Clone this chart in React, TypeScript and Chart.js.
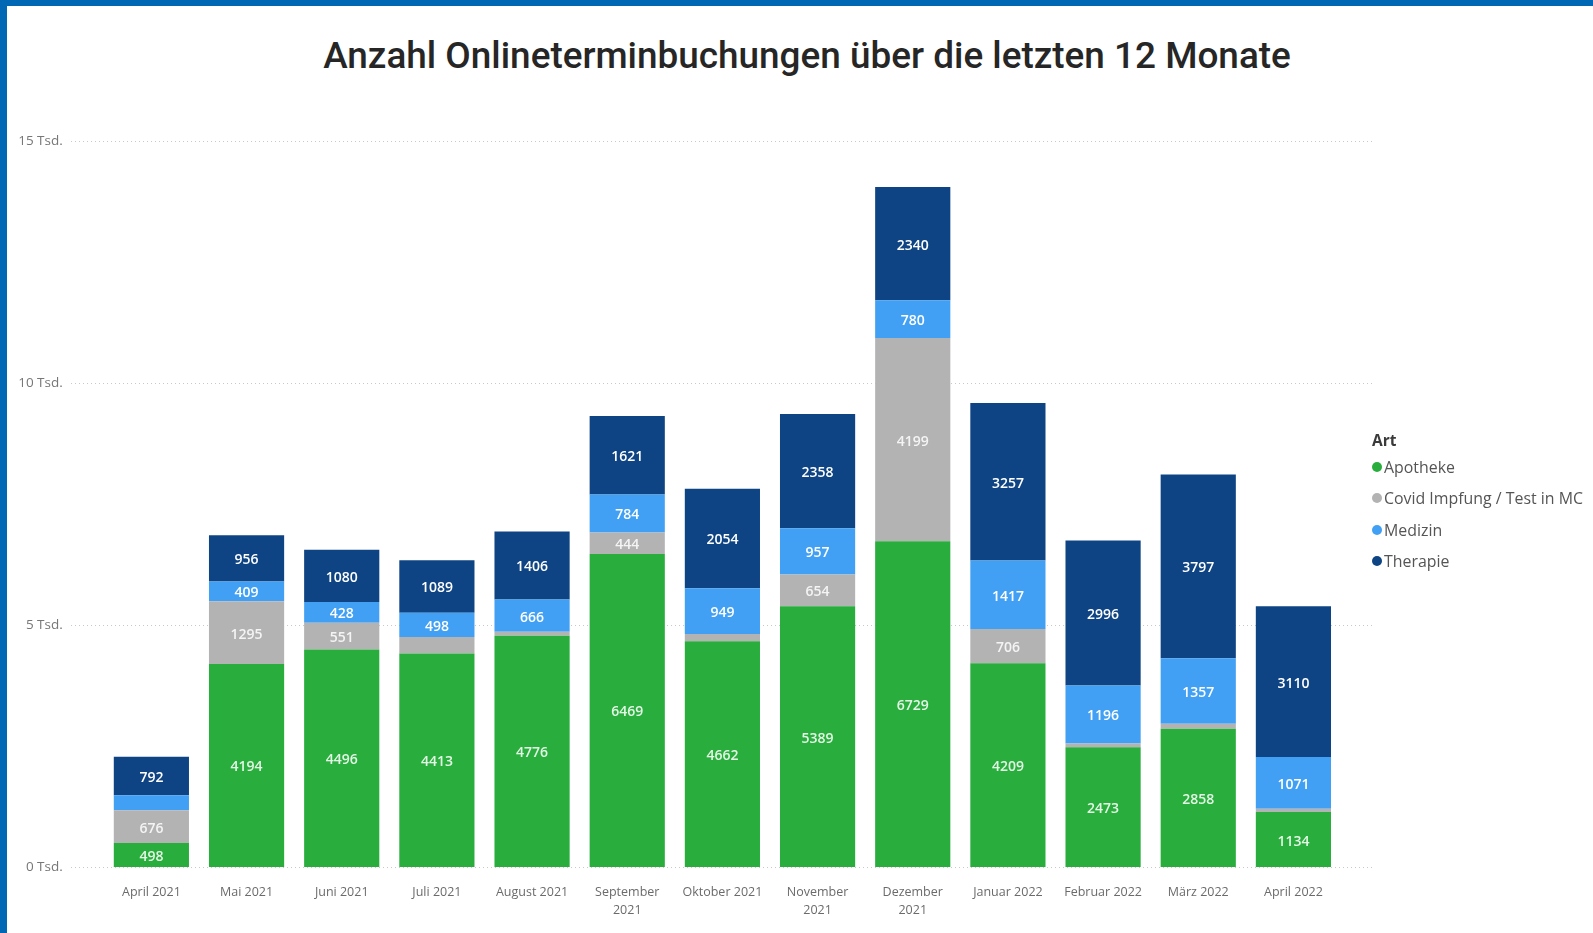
import React, { useEffect, useRef } from "react";
import { Chart, registerables } from "chart.js";

Chart.register(...registerables);

const categories: string[][] = [
  ["April 2021"],
  ["Mai 2021"],
  ["Juni 2021"],
  ["Juli 2021"],
  ["August 2021"],
  ["September", "2021"],
  ["Oktober 2021"],
  ["November", "2021"],
  ["Dezember", "2021"],
  ["Januar 2022"],
  ["Februar 2022"],
  ["März 2022"],
  ["April 2022"],
];

const apotheke = [498, 4194, 4496, 4413, 4776, 6469, 4662, 5389, 6729, 4209, 2473, 2858, 1134];
const covid = [676, 1295, 551, 340, 85, 444, 150, 654, 4199, 706, 80, 100, 70];
const medizin = [310, 409, 428, 498, 666, 784, 949, 957, 780, 1417, 1196, 1357, 1071];
const therapie = [792, 956, 1080, 1089, 1406, 1621, 2054, 2358, 2340, 3257, 2996, 3797, 3110];

const seriesNames = ["Apotheke", "Covid Impfung / Test in MC", "Medizin", "Therapie"];
const seriesColors = ["#29AE3E", "#B3B3B3", "#41A0F4", "#0E4483"];
const labelColors = ["#E4F7E6", "#F4F4F4", "#FFFFFF", "#FFFFFF"];
const yTicks = [0, 5000, 10000, 15000];

const TITLE = "Anzahl Onlineterminbuchungen über die letzten 12 Monate";
const LABEL_MIN = 400;

const FONT = "'Open Sans', 'Noto Sans', sans-serif";

const gridPlugin = {
  id: "dottedGrid",
  beforeDatasetsDraw(chart: any) {
    const y = chart.scales.y;
    const ctx = chart.ctx;
    ctx.save();
    ctx.strokeStyle = "#C9C9C9";
    ctx.lineWidth = 1;
    ctx.setLineDash([1, 3]);
    yTicks.forEach((v) => {
      const py = Math.round(y.getPixelForValue(v)) + 0.5;
      ctx.beginPath();
      ctx.moveTo(64, py);
      ctx.lineTo(1365, py);
      ctx.stroke();
    });
    ctx.restore();
  },
};

const labelPlugin = {
  id: "segLabels",
  afterDatasetsDraw(chart: any) {
    const ctx = chart.ctx;
    ctx.save();
    ctx.font = `600 14px ${FONT}`;
    ctx.textAlign = "center";
    ctx.textBaseline = "middle";
    chart.data.datasets.forEach((ds: any, di: number) => {
      const meta = chart.getDatasetMeta(di);
      meta.data.forEach((bar: any, i: number) => {
        const v = ds.data[i];
        if (v < LABEL_MIN) return;
        ctx.fillStyle = labelColors[di];
        ctx.fillText(String(v), bar.x, (bar.y + bar.base) / 2 + 2);
      });
    });
    ctx.restore();
  },
};

export default function App() {
  const ref = useRef<HTMLCanvasElement | null>(null);

  useEffect(() => {
    if (!ref.current) return;
    const data = [apotheke, covid, medizin, therapie];
    const chart = new Chart(ref.current, {
      type: "bar",
      data: {
        labels: categories,
        datasets: data.map((d, i) => ({
          label: seriesNames[i],
          data: d,
          backgroundColor: seriesColors[i],
          borderWidth: 0,
          barPercentage: 0.79,
          categoryPercentage: 1,
          stack: "s",
        })),
      },
      options: {
        responsive: false,
        animation: false,
        layout: { padding: { left: 0, right: 252, top: 135, bottom: 16 } },
        plugins: {
          legend: { display: false },
          title: { display: false },
          tooltip: { enabled: false },
        },
        scales: {
          x: {
            stacked: true,
            grid: { display: false, drawTicks: false, tickLength: 0 },
            border: { display: false },
            ticks: {
              padding: 16,
              color: "#6B6B6B",
              font: { family: FONT, size: 12.5, lineHeight: 1.45 },
              maxRotation: 0,
              autoSkip: false,
            },
            afterFit: (s: any) => {
              s.height = 50;
            },
          },
          y: {
            stacked: true,
            min: 0,
            max: 15000,
            grid: { display: false, drawTicks: false, tickLength: 0 },
            border: { display: false },
            ticks: {
              stepSize: 5000,
              padding: 41,
              color: "#777777",
              font: { family: FONT, size: 13.5 },
              callback: (v: any) => `${Number(v) / 1000} Tsd.`,
            },
            afterFit: (s: any) => {
              s.width = 96.8;
            },
          },
        },
      },
      plugins: [gridPlugin, labelPlugin],
    });
    return () => chart.destroy();
  }, []);

  return (
    <div
      style={{
        position: "absolute",
        left: 0,
        top: 0,
        width: 1593,
        height: 933,
        background: "#FFFFFF",
        borderTop: "6px solid #0067B5",
        borderLeft: "7px solid #0067B5",
        boxSizing: "border-box",
        overflow: "hidden",
      }}
    >
      <div
        style={{
          position: "absolute",
          left: 800,
          top: 30,
          transform: "translateX(-50%)",
          whiteSpace: "nowrap",
          fontFamily: "Roboto, 'DejaVu Sans', sans-serif",
          fontWeight: 500,
          fontSize: 36.9,
          lineHeight: "40px",
          color: "#262626",
        }}
      >
        {TITLE}
      </div>
      <canvas ref={ref} width={1586} height={927} style={{ position: "absolute", left: 0, top: 0 }} />
      <div
        style={{
          position: "absolute",
          left: 1365,
          top: 423,
          fontFamily: FONT,
          color: "#555555",
        }}
      >
        <div style={{ fontWeight: 700, fontSize: 15.5, color: "#3A3A3A", lineHeight: "22px", height: 22 }}>Art</div>
        {seriesNames.map((n, i) => (
          <div key={n} style={{ display: "flex", alignItems: "center", height: 31.5, fontSize: 15.9 }}>
            <span
              style={{
                display: "inline-block",
                width: 10,
                height: 10,
                borderRadius: 5,
                background: seriesColors[i],
                marginRight: 2,
              }}
            />
            <span>{n}</span>
          </div>
        ))}
      </div>
    </div>
  );
}
